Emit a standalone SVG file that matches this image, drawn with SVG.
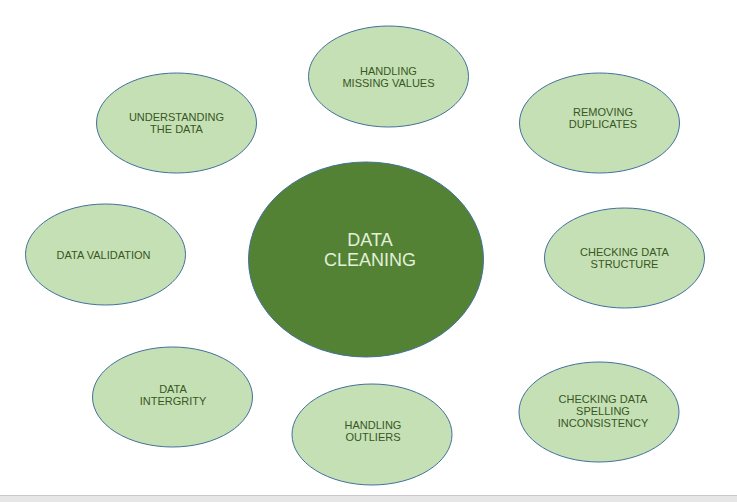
<svg xmlns="http://www.w3.org/2000/svg" width="737" height="502" viewBox="0 0 737 502">
  <style>
    .sat { fill: #c5e0b4; stroke: #41719c; stroke-width: 1; }
    .hub { fill: #548235; stroke: #41719c; stroke-width: 1; }
    .lbl { font-family: "Liberation Sans", Arial, sans-serif; font-size: 11px; fill: #385723; text-anchor: middle; dominant-baseline: central; }
    .hubl { font-family: "Liberation Sans", Arial, sans-serif; font-size: 18px; fill: #e2f0d9; text-anchor: middle; dominant-baseline: central; }
  </style>
  <rect x="0" y="0" width="737" height="502" fill="#ffffff"/>
  <rect x="0" y="495" width="737" height="7" fill="#e6e6e6"/>
  <line x1="0" y1="495.5" x2="737" y2="495.5" stroke="#c8c8c8" stroke-width="1"/>
  <g id="connectors"></g>
  <g id="data-cleaning">
    <ellipse class="hub" cx="366" cy="259.5" rx="117.5" ry="97.5"/>
    <text class="hubl" x="370" y="240">DATA</text>
    <text class="hubl" x="370" y="260">CLEANING</text>
  </g>
  <g id="handling-missing-values">
    <ellipse class="sat" cx="388.5" cy="76.5" rx="80" ry="50.5"/>
    <text class="lbl" x="388.5" y="71">HANDLING</text>
    <text class="lbl" x="388.5" y="83">MISSING VALUES</text>
  </g>
  <g id="understanding-the-data">
    <ellipse class="sat" cx="176.5" cy="123" rx="80" ry="50"/>
    <text class="lbl" x="176.5" y="116.5">UNDERSTANDING</text>
    <text class="lbl" x="176.5" y="128.5">THE DATA</text>
  </g>
  <g id="removing-duplicates">
    <ellipse class="sat" cx="599.5" cy="123" rx="80" ry="50"/>
    <text class="lbl" x="603" y="112">REMOVING</text>
    <text class="lbl" x="603" y="124">DUPLICATES</text>
  </g>
  <g id="data-validation">
    <ellipse class="sat" cx="105.5" cy="254.5" rx="80" ry="50.5"/>
    <text class="lbl" x="103.5" y="255">DATA VALIDATION</text>
  </g>
  <g id="checking-data-structure">
    <ellipse class="sat" cx="624.5" cy="258" rx="80" ry="50"/>
    <text class="lbl" x="624.5" y="252">CHECKING DATA</text>
    <text class="lbl" x="624.5" y="264">STRUCTURE</text>
  </g>
  <g id="data-integrity">
    <ellipse class="sat" cx="172.5" cy="397" rx="80" ry="50"/>
    <text class="lbl" x="173" y="389">DATA</text>
    <text class="lbl" x="173" y="401">INTERGRITY</text>
  </g>
  <g id="handling-outliers">
    <ellipse class="sat" cx="372" cy="434.5" rx="80" ry="50.5"/>
    <text class="lbl" x="373" y="425">HANDLING</text>
    <text class="lbl" x="373" y="437">OUTLIERS</text>
  </g>
  <g id="checking-data-spelling-inconsistency">
    <ellipse class="sat" cx="599" cy="412" rx="80" ry="50"/>
    <text class="lbl" x="603" y="399">CHECKING DATA</text>
    <text class="lbl" x="603" y="411">SPELLING</text>
    <text class="lbl" x="603" y="423">INCONSISTENCY</text>
  </g>
</svg>
